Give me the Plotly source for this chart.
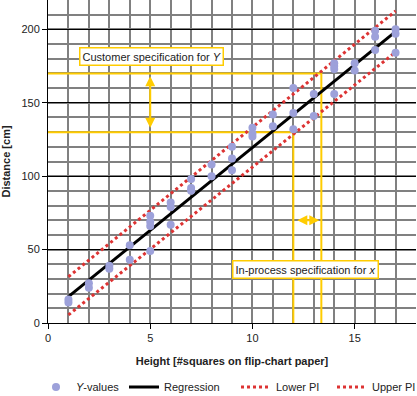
import plotly.graph_objects as go

# ---- data ----
x_vals = [1, 1, 2, 2, 3, 3, 4, 4, 5, 5, 5, 5, 6, 6, 6, 7, 7, 7, 8, 8,
          9, 9, 9, 10, 10, 10, 11, 11, 12, 12, 12, 13, 13, 14, 14, 14, 14,
          15, 15, 16, 16, 16, 17, 17, 17]
y_vals = [16, 14, 27, 24, 39, 37, 53, 43, 73, 69, 66, 49, 82, 79, 67, 98, 92, 90, 108, 100,
          120, 112, 104, 133, 129, 127, 142, 134, 160, 143, 132, 156, 141, 177, 175, 173, 156,
          177, 172, 199, 195, 186, 200, 197, 184]

reg_x = [1, 17]
reg_y = [18, 198.5]
lower_pi_x = [1, 17]
lower_pi_y = [5.5, 184.5]
upper_pi_x = [1, 17]
upper_pi_y = [31.5, 212.5]

spec_y = [130, 170]          # customer specification for Y
spec_x = [12.0, 13.37]       # in-process specification for x
dark_x_lines = [6, 14]

x_ticks = [0, 5, 10, 15]
y_ticks = [0, 50, 100, 150, 200]

FONT = "Arial, Liberation Sans, sans-serif"
GOLD = "#ffcc00"
RED = "#dd3333"
PURPLE = "#9da1da"

fig = go.Figure()

# yellow specification lines
fig.add_trace(go.Scatter(x=[0, spec_x[1], spec_x[1]], y=[spec_y[1], spec_y[1], 0],
                         mode="lines", line=dict(color=GOLD, width=2),
                         showlegend=False, hoverinfo="skip"))
fig.add_trace(go.Scatter(x=[0, spec_x[0], spec_x[0]], y=[spec_y[0], spec_y[0], 0],
                         mode="lines", line=dict(color=GOLD, width=2),
                         showlegend=False, hoverinfo="skip"))

fig.add_trace(go.Scatter(x=lower_pi_x, y=lower_pi_y, mode="lines", name="Lower PI",
                         line=dict(color=RED, width=3, dash="3px,3px"), legend="legend3"))
fig.add_trace(go.Scatter(x=upper_pi_x, y=upper_pi_y, mode="lines", name="Upper PI",
                         line=dict(color=RED, width=3, dash="3px,3px"), legend="legend4"))
fig.add_trace(go.Scatter(x=reg_x, y=reg_y, mode="lines", name="Regression",
                         line=dict(color="black", width=3), legend="legend2"))
fig.add_trace(go.Scatter(x=x_vals, y=y_vals, mode="markers", name="<i>Y</i>-values",
                         marker=dict(color=PURPLE, size=8), legend="legend"))

shapes = []
for xv in dark_x_lines:
    shapes.append(dict(type="line", xref="x", yref="paper", x0=xv, x1=xv, y0=0, y1=1,
                       line=dict(color="black", width=1), layer="between"))

annotations = [
    dict(x=5, y=spec_y[1] - 2, ax=5, ay=spec_y[0] + 2, xref="x", yref="y", axref="x", ayref="y",
         text="", showarrow=True, arrowside="end+start", arrowhead=2, arrowsize=1,
         arrowwidth=2, arrowcolor=GOLD, standoff=0, startstandoff=0),
    dict(x=spec_x[1] - 0.1, y=70, ax=spec_x[0] + 0.12, ay=70, xref="x", yref="y", axref="x", ayref="y",
         text="", showarrow=True, arrowside="end+start", arrowhead=2, arrowsize=1,
         arrowwidth=2, arrowcolor=GOLD, standoff=0, startstandoff=0),
    dict(x=5.04, y=181.5, xref="x", yref="y", text="Customer specification for <i>Y</i>",
         showarrow=False, bgcolor="white", bordercolor=GOLD, borderwidth=1.5, borderpad=2,
         font=dict(family=FONT, size=11, color="#222")),
    dict(x=12.58, y=36.7, xref="x", yref="y", text="In-process specification for <i>x</i>",
         showarrow=False, bgcolor="white", bordercolor=GOLD, borderwidth=1.5, borderpad=2,
         font=dict(family=FONT, size=11, color="#222")),
]

def leg(xpx):
    return dict(orientation="h", x=(xpx - 48) / 368, xanchor="left", y=-0.198, yanchor="middle",
                font=dict(family=FONT, size=11, color="#222"), bgcolor="rgba(0,0,0,0)",
                itemwidth=30, borderwidth=0)

fig.update_layout(
    width=417, height=396,
    margin=dict(l=48, r=1, t=0, b=73, autoexpand=False),
    paper_bgcolor="white", plot_bgcolor="white",
    font=dict(family=FONT, size=11, color="#222"),
    showlegend=True,
    legend=leg(36), legend2=leg(124), legend3=leg(236), legend4=leg(332),
    shapes=shapes, annotations=annotations,
    xaxis=dict(range=[0, 18], tickvals=x_ticks, ticks="outside", ticklen=5, tickcolor="black",
               showline=True, linecolor="black", linewidth=1, zeroline=False, automargin=False,
               showgrid=True, gridcolor="#808080", gridwidth=2,
               minor=dict(dtick=1, tick0=0, showgrid=True, gridcolor="#808080", gridwidth=2, ticks=""),
               title=dict(text="<b>Height [#squares on flip-chart paper]</b>", standoff=14,
                          font=dict(family=FONT, size=11, color="#222")),
               tickfont=dict(family=FONT, size=11, color="#222")),
    yaxis=dict(range=[0, 220], tickvals=y_ticks, ticks="outside", ticklen=5, tickcolor="black",
               showline=True, linecolor="black", linewidth=1, zeroline=False, automargin=False,
               showgrid=True, gridcolor="black", gridwidth=1,
               minor=dict(dtick=10, tick0=0, showgrid=True, gridcolor="#808080", gridwidth=2, ticks=""),
               title=dict(text="<b>Distance [cm]</b>", standoff=10,
                          font=dict(family=FONT, size=11, color="#222")),
               tickfont=dict(family=FONT, size=11, color="#222")),
)

fig.write_html("out.html", config={"displayModeBar": False},
               post_script="document.body.style.margin='0px';")
